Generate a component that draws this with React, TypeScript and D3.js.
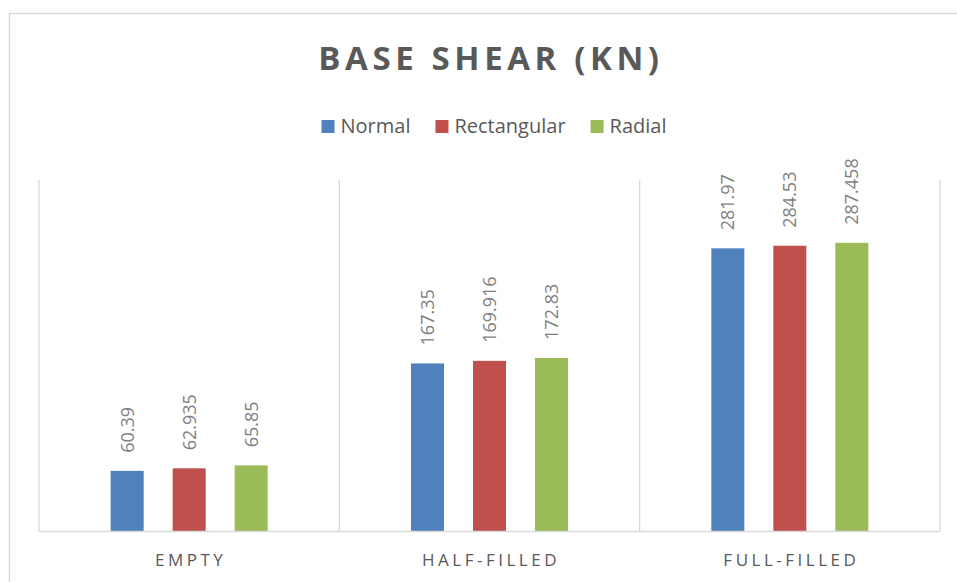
import React, { useRef, useEffect } from 'react';
import * as d3 from 'd3';

const categories = ['EMPTY', 'HALF-FILLED', 'FULL-FILLED'];
const seriesNames = ['Normal', 'Rectangular', 'Radial'];
const seriesColors = ['#4f81bd', '#c0504d', '#9bbb59'];
const normalValues = [60.39, 167.35, 281.97];
const rectangularValues = [62.935, 169.916, 284.53];
const radialValues = [65.85, 172.83, 287.458];
const valueLabels = [
  ['60.39', '167.35', '281.97'],
  ['62.935', '169.916', '284.53'],
  ['65.85', '172.83', '287.458'],
];
const yDomain: [number, number] = [0, 350];

const App: React.FC = () => {
  const svgRef = useRef<SVGSVGElement>(null);

  useEffect(() => {
    if (!svgRef.current) return;
    const width = 957;
    const height = 582;
    const plot = { left: 39, right: 940, top: 180, bottom: 531.5 };
    const font = '"Open Sans", "Liberation Sans", sans-serif';
    const gridColor = '#d9d9d9';

    const svg = d3.select(svgRef.current);
    svg.selectAll('*').remove();

    // chart border (right and bottom edges fall outside the picture)
    svg.append('rect')
      .attr('x', 9.5).attr('y', 13.5)
      .attr('width', width + 20).attr('height', height + 20)
      .attr('fill', '#fff')
      .attr('stroke', gridColor).attr('stroke-width', 1.5);

    const x0 = d3.scaleBand<string>()
      .domain(categories)
      .range([plot.left, plot.right])
      .paddingInner(0).paddingOuter(0);

    // bars 33px wide, 62px step
    const groupWidth = 157;
    const x1 = d3.scaleBand<string>()
      .domain(seriesNames)
      .range([-groupWidth / 2, groupWidth / 2])
      .paddingInner(29 / 62);

    const y = d3.scaleLinear().domain(yDomain).range([plot.bottom, plot.top]);

    // vertical category separators
    const seps = [...categories.map(c => x0(c)!), plot.right];
    svg.append('g')
      .selectAll('line')
      .data(seps)
      .join('line')
      .attr('x1', d => d).attr('x2', d => d)
      .attr('y1', plot.top).attr('y2', plot.bottom)
      .attr('stroke', gridColor).attr('stroke-width', 1.3);

    const series = [normalValues, rectangularValues, radialValues];

    const rows = categories.flatMap((c, ci) =>
      seriesNames.map((s, si) => ({ c, s, si, v: series[si][ci], label: valueLabels[si][ci] }))
    );

    svg.append('g')
      .selectAll('rect')
      .data(rows)
      .join('rect')
      .attr('x', d => x0(d.c)! + x0.bandwidth() / 2 + x1(d.s)!)
      .attr('y', d => y(d.v))
      .attr('width', x1.bandwidth())
      .attr('height', d => y(0) - y(d.v))
      .attr('fill', d => seriesColors[d.si]);

    // baseline
    svg.append('line')
      .attr('x1', plot.left).attr('x2', plot.right)
      .attr('y1', plot.bottom).attr('y2', plot.bottom)
      .attr('stroke', gridColor).attr('stroke-width', 1.6);

    // data labels, rotated
    svg.append('g')
      .selectAll('text')
      .data(rows)
      .join('text')
      .attr('transform', d => {
        const cx = x0(d.c)! + x0.bandwidth() / 2 + x1(d.s)! + x1.bandwidth() / 2;
        return `translate(${cx},${y(d.v) - 18}) rotate(-90)`;
      })
      .attr('dy', '0.36em')
      .attr('font-family', font)
      .attr('font-size', 18)
      .attr('fill', '#7f7f7f')
      .text(d => d.label);

    // category labels
    svg.append('g')
      .selectAll('text')
      .data(categories)
      .join('text')
      .attr('x', d => x0(d)! + x0.bandwidth() / 2 + 1.5)
      .attr('y', 566)
      .attr('text-anchor', 'middle')
      .attr('font-family', font)
      .attr('font-size', 17)
      .attr('letter-spacing', 3.5)
      .attr('fill', '#595959')
      .text(d => d);

    // title
    svg.append('text')
      .attr('x', 489 + 2)
      .attr('y', 70)
      .attr('text-anchor', 'middle')
      .attr('font-family', font)
      .attr('font-weight', 700)
      .attr('font-size', 33)
      .attr('letter-spacing', 4.6)
      .attr('fill', '#595959')
      .text('BASE SHEAR (KN)');

    // legend
    const legend = svg.append('g');
    const items = legend.selectAll('g')
      .data(seriesNames)
      .join('g');
    items.append('rect')
      .attr('width', 13).attr('height', 13)
      .attr('y', 120)
      .attr('fill', (_, i) => seriesColors[i]);
    items.append('text')
      .attr('x', 19)
      .attr('y', 133)
      .attr('font-family', font)
      .attr('font-size', 20)
      .attr('fill', '#595959')
      .text(d => d);
    let offset = 0;
    const widths: number[] = [];
    items.each(function () {
      const t = d3.select(this).select('text').node() as SVGTextElement;
      widths.push(19 + t.getComputedTextLength());
    });
    const total = d3.sum(widths) + 25 * (widths.length - 1);
    const startX = 494 - total / 2;
    items.attr('transform', (_, i) => {
      const tx = startX + offset;
      offset += widths[i] + 25;
      return `translate(${tx},0)`;
    });
  }, []);

  return (
    <svg
      ref={svgRef}
      width={957}
      height={582}
      style={{ position: 'absolute', left: 0, top: 0, background: '#fff' }}
    />
  );
};

export default App;
